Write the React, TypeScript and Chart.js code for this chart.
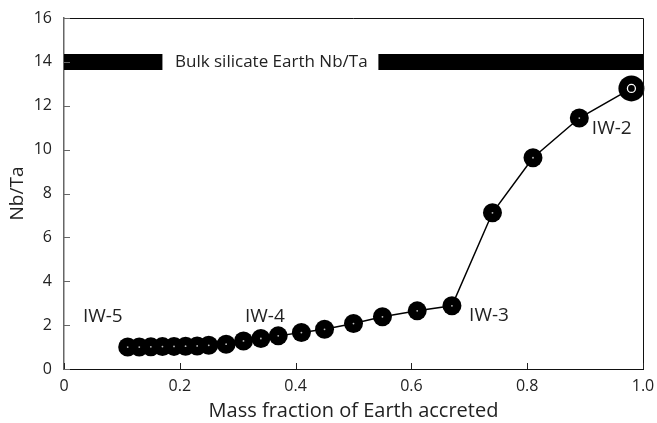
import React, { useEffect, useRef } from "react";
import { Chart, registerables } from "chart.js";

Chart.register(...registerables);

const massFraction = [0.11, 0.13, 0.15, 0.17, 0.19, 0.21, 0.23, 0.25, 0.28, 0.31, 0.34, 0.37, 0.41, 0.45, 0.50, 0.55, 0.61, 0.67, 0.74, 0.81, 0.89, 0.98];
const nbTa = [1.0, 1.0, 1.01, 1.02, 1.03, 1.04, 1.05, 1.08, 1.13, 1.28, 1.39, 1.51, 1.66, 1.81, 2.07, 2.38, 2.65, 2.88, 7.12, 9.63, 11.44, 12.79];

const bseValue = 14;
const bseLabel = "Bulk silicate Earth Nb/Ta";
const bseLeftSegment = [0, 0.17];
const bseRightSegment = [0.543, 1.0];
const bseLabelX = 0.358;

const stageNames = ["IW-5", "IW-4", "IW-3", "IW-2"];
const stageX = [0.067, 0.347, 0.734, 0.946];
const stageY = [2.38, 2.38, 2.42, 10.97];

const xTicks = [0, 0.2, 0.4, 0.6, 0.8, 1.0];
const xTickLabels = ["0", "0.2", "0.4", "0.6", "0.8", "1.0"];
const yTicks = [0, 2, 4, 6, 8, 10, 12, 14, 16];

const FONT = "'Open Sans', 'Noto Sans', sans-serif";

export default function App() {
  const ref = useRef<HTMLCanvasElement>(null);
  useEffect(() => {
    document.body.style.margin = "0";
    const canvas = ref.current!;
    const n = massFraction.length;
    const points = massFraction.map((x, i) => ({ x, y: nbTa[i] }));
    const radii = massFraction.map((_, i) => (i === n - 1 ? 13 : 9.5));

    const overlay = {
      id: "overlay",
      afterDatasetsDraw(chart: any) {
        const { ctx, chartArea, scales } = chart;
        const xs = scales.x;
        const ys = scales.y;
        ctx.save();
        ctx.strokeStyle = "#111";
        ctx.lineWidth = 1;
        ctx.beginPath();
        ctx.moveTo(chartArea.left, chartArea.top + 0.5);
        ctx.lineTo(chartArea.right + 0.5, chartArea.top + 0.5);
        ctx.lineTo(chartArea.right + 0.5, chartArea.bottom);
        ctx.stroke();
        ctx.strokeStyle = "#222";
        xTicks.forEach((v) => {
          const px = Math.round(xs.getPixelForValue(v)) + 0.5;
          ctx.beginPath();
          ctx.moveTo(px, chartArea.bottom);
          ctx.lineTo(px, chartArea.bottom - 6);
          ctx.stroke();
        });
        ctx.strokeStyle = "#666";
        yTicks.forEach((v) => {
          const py = Math.round(ys.getPixelForValue(v)) + 0.5;
          ctx.beginPath();
          ctx.moveTo(chartArea.left, py);
          ctx.lineTo(chartArea.left + 6, py);
          ctx.stroke();
        });
        ctx.fillStyle = "#222";
        ctx.textAlign = "center";
        ctx.textBaseline = "middle";
        ctx.font = `17px ${FONT}`;
        ctx.fillText(bseLabel, xs.getPixelForValue(bseLabelX), ys.getPixelForValue(bseValue));
        ctx.font = `19px ${FONT}`;
        stageNames.forEach((s, i) => {
          ctx.fillText(s, xs.getPixelForValue(stageX[i]), ys.getPixelForValue(stageY[i]));
        });
        ctx.restore();
      },
    };

    const chart = new Chart(canvas, {
      type: "scatter",
      data: {
        datasets: [
          {
            data: bseLeftSegment.map((x) => ({ x, y: bseValue })),
            showLine: true,
            borderColor: "#000",
            borderWidth: 16,
            borderCapStyle: "butt",
            pointRadius: 0,
            order: 3,
          } as any,
          {
            data: bseRightSegment.map((x) => ({ x, y: bseValue })),
            showLine: true,
            borderColor: "#000",
            borderWidth: 16,
            borderCapStyle: "butt",
            pointRadius: 0,
            order: 3,
          } as any,
          {
            data: points,
            showLine: true,
            borderColor: "#000",
            borderWidth: 1.5,
            pointRadius: radii,
            pointBackgroundColor: "#000",
            pointBorderColor: "#000",
            pointBorderWidth: 0,
            order: 2,
          },
          {
            data: points.slice(0, n - 1),
            showLine: false,
            pointRadius: 0.9,
            pointBackgroundColor: "#bbb",
            pointBorderWidth: 0,
            order: 1,
          },
          {
            data: [points[n - 1]],
            showLine: false,
            pointRadius: 4,
            pointBackgroundColor: "#000",
            pointBorderColor: "#fff",
            pointBorderWidth: 1.3,
            order: 0,
          },
        ],
      },
      options: {
        responsive: false,
        animation: false,
        clip: false as any,
        layout: { padding: { top: 18, right: 14, left: 0, bottom: 0 } },
        plugins: { legend: { display: false }, tooltip: { enabled: false } },
        scales: {
          x: {
            type: "linear",
            min: 0,
            max: 1,
            afterFit: (s: any) => { s.height = 54; s.paddingLeft = 0; s.paddingRight = 0; },
            afterBuildTicks: (s: any) => { s.ticks = xTicks.map((v) => ({ value: v })); },
            grid: { display: false, drawTicks: false },
            border: { display: true, color: "#111", width: 1 },
            ticks: {
              padding: 8,
              color: "#222",
              font: { family: FONT, size: 16 },
              maxRotation: 0,
              callback: (v: any) => {
                const i = xTicks.findIndex((t) => Math.abs(t - v) < 1e-9);
                return i >= 0 ? xTickLabels[i] : "";
              },
            },
            title: {
              display: true,
              text: "Mass fraction of Earth accreted",
              color: "#222",
              font: { family: FONT, size: 20 },
              padding: { top: 0, bottom: 0 },
            },
          },
          y: {
            type: "linear",
            min: 0,
            max: 16,
            afterFit: (s: any) => { s.width = 64; s.paddingTop = 0; s.paddingBottom = 0; },
            afterBuildTicks: (s: any) => { s.ticks = yTicks.map((v) => ({ value: v })); },
            grid: { display: false, drawTicks: false },
            border: { display: true, color: "#666", width: 1.5 },
            ticks: {
              padding: 12,
              color: "#222",
              font: { family: FONT, size: 16 },
            },
            title: {
              display: true,
              text: "Nb/Ta",
              color: "#222",
              font: { family: FONT, size: 19 },
              padding: { top: 6, bottom: 0 },
            },
          },
        },
      },
      plugins: [overlay],
    });
    return () => chart.destroy();
  }, []);
  return <canvas ref={ref} width={657} height={423} style={{ display: "block" }} />;
}
